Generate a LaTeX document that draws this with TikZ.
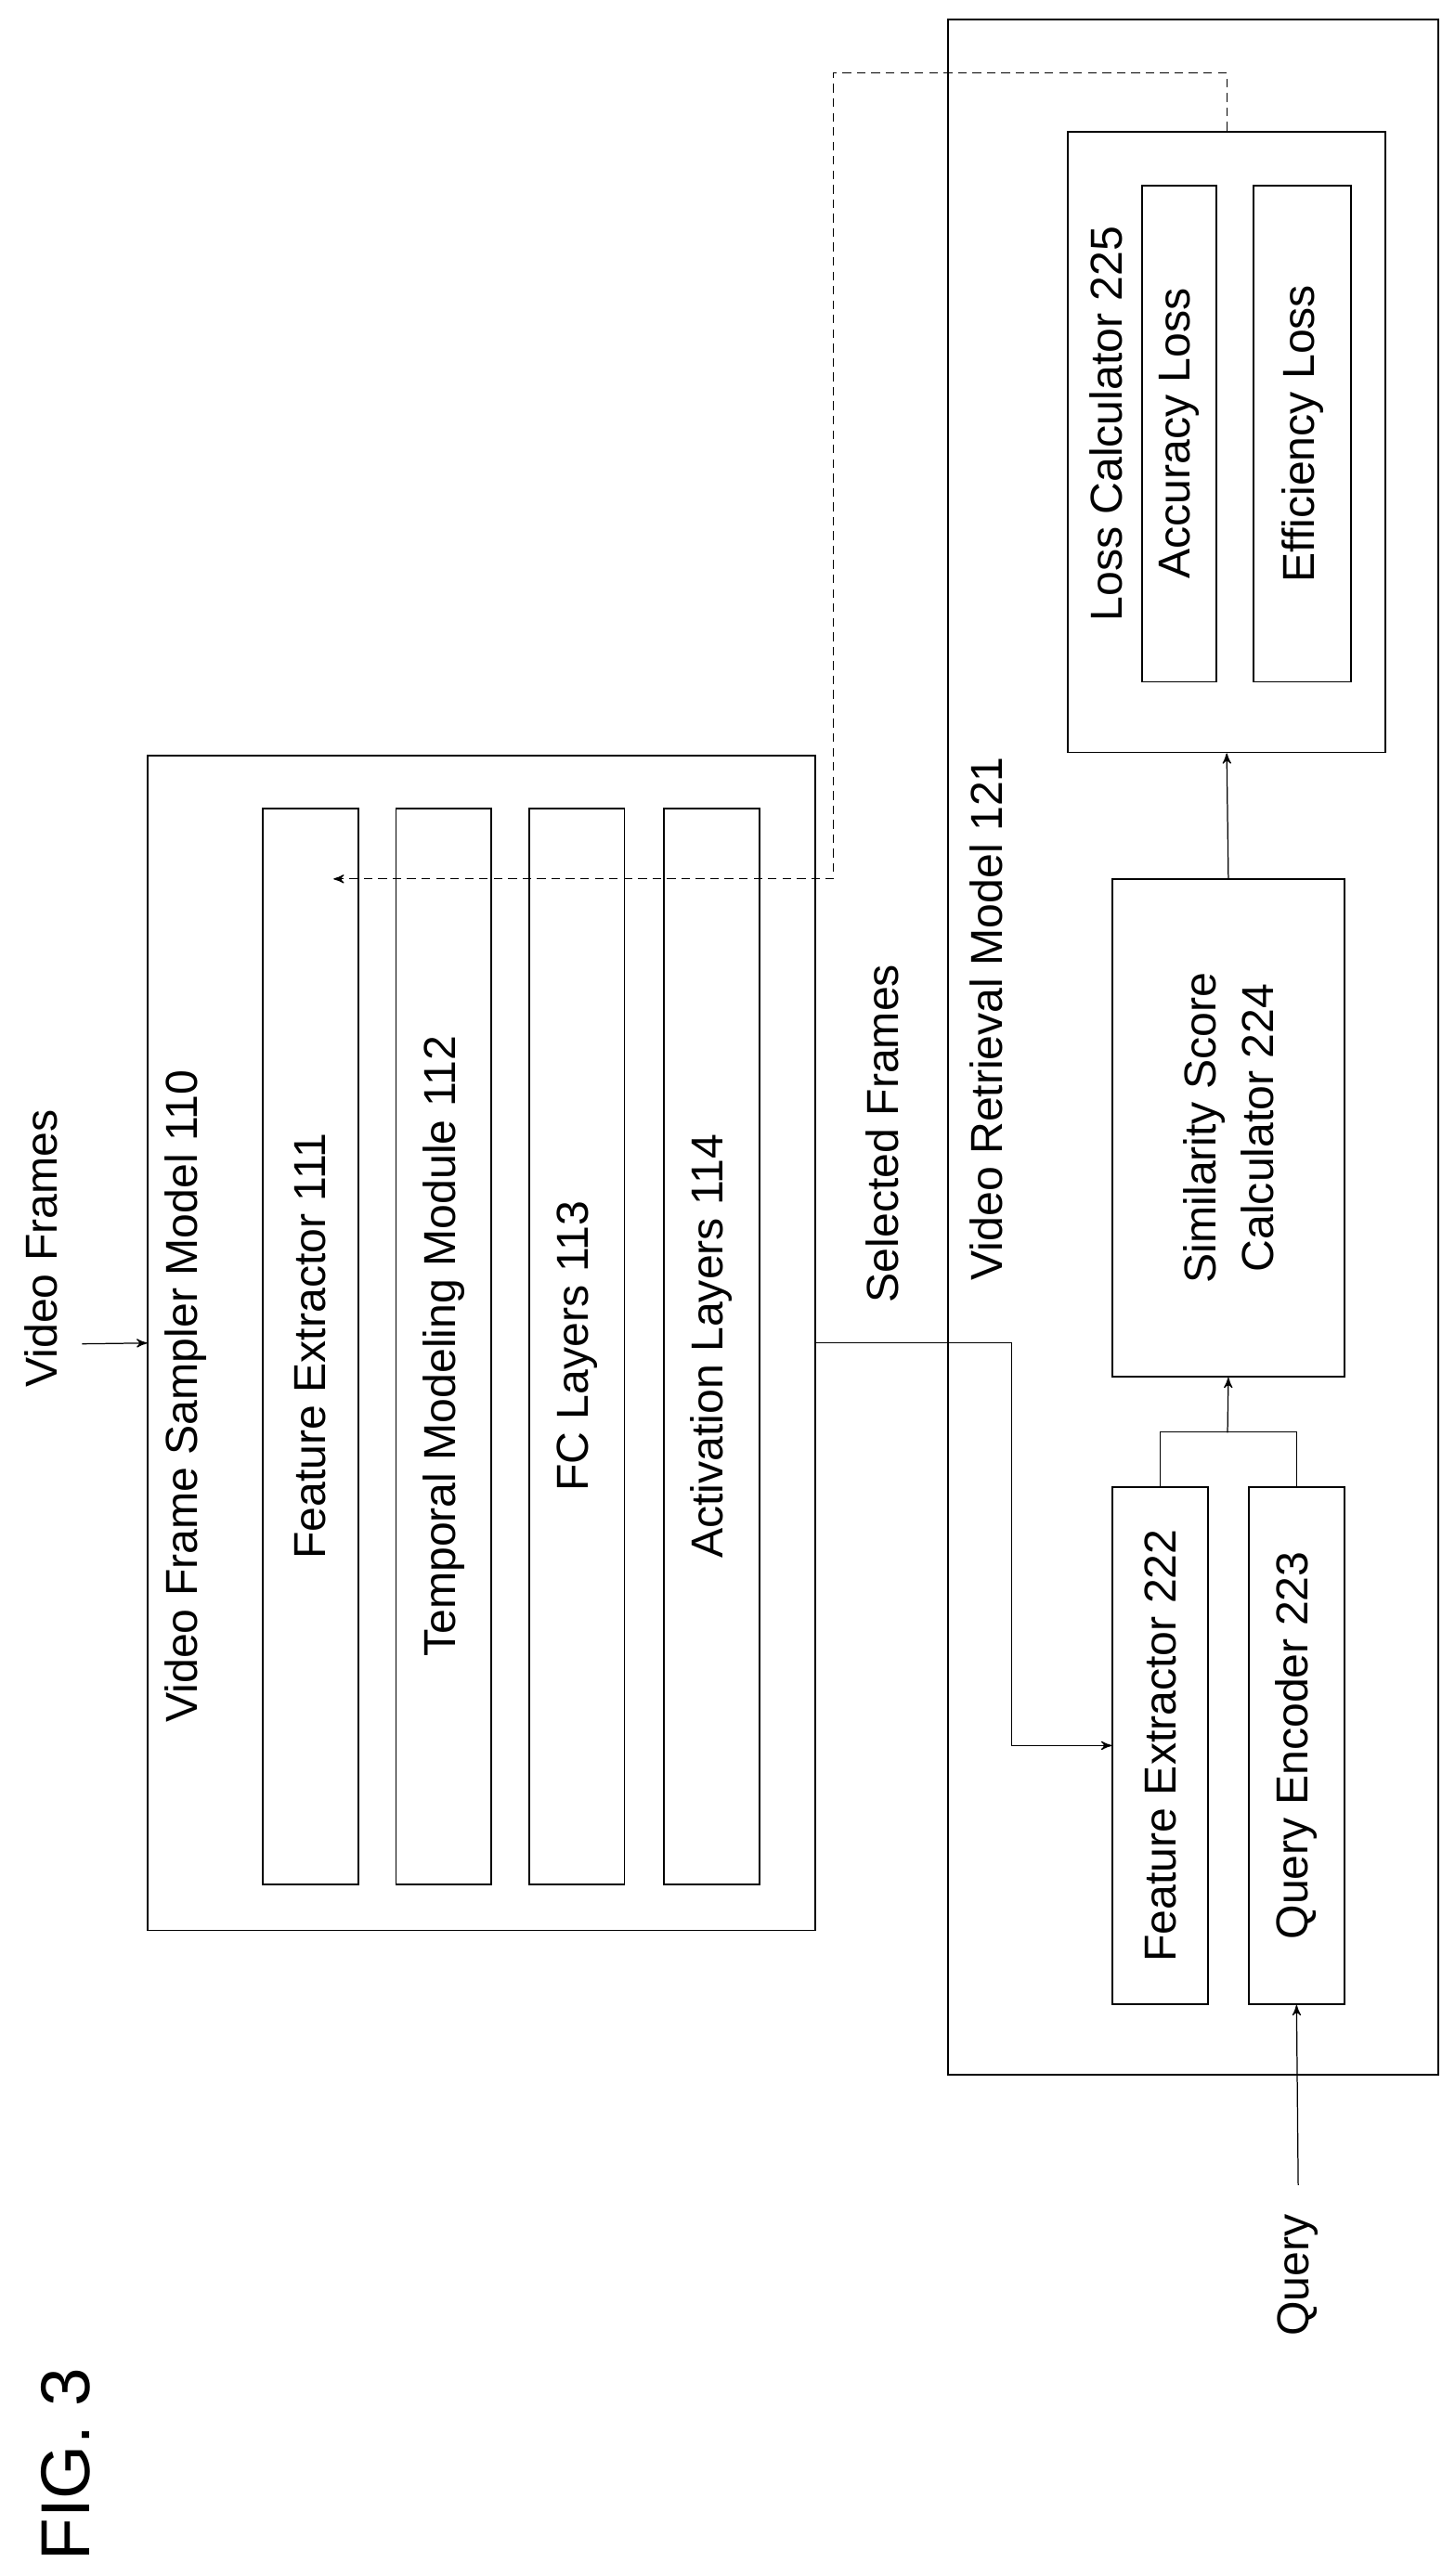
\documentclass[tikz,border=0pt]{standalone}
\usepackage{fontspec}
\setmainfont{Liberation Sans}
\usetikzlibrary{positioning, fit}
\usetikzlibrary{arrows}

\begin{document}
\begin{tikzpicture}[x=0.02cm,y=-0.02cm,>=stealth',semithick,
    box/.style={draw,inner sep=0pt,fit={#1}},
    lbl/.style={rotate=90,font=\fontsize{15.5}{20}\selectfont,align=center}]
   \useasboundingbox (0,0) rectangle (885,1568);
   % sampler model
   \node[box={(90,460)(496,1175)}] (vfs) {};
   \node[lbl] at (113,850) {Video Frame Sampler Model 110};
   \node[box={(160,492)(218,1147)}] (fe1) {};
   \node[lbl] at (fe1) {Feature Extractor 111};
   \node[box={(241,492)(299,1147)}] (tmm) {};
   \node[lbl] at (tmm) {Temporal Modeling Module 112};
   \node[box={(322,492)(380,1147)}] (fc) {};
   \node[lbl] at (fc) {FC Layers 113};
   \node[box={(404,492)(462,1147)}] (act) {};
   \node[lbl] at (act) {Activation Layers 114};
   % retrieval model
   \node[box={(577,12)(875,1263)}] (vrm) {};
   \node[lbl] at (600,620) {Video Retrieval Model 121};
   \node[box={(677,905)(735,1220)}] (fe2) {};
   \node[lbl] at (fe2) {Feature Extractor 222};
   \node[box={(760,905)(818,1220)}] (qe) {};
   \node[lbl] at (qe) {Query Encoder 223};
   \node[box={(677,535)(818,838)}] (sim) {};
   \node[lbl] at (sim) {Similarity Score\\Calculator 224};
   \node[box={(650,80)(843,458)}] (loss) {};
   \node[lbl] at (673,258) {Loss Calculator 225};
   \node[box={(695,113)(740,415)}] (acc) {};
   \node[lbl] at (acc) {Accuracy Loss};
   \node[box={(763,113)(822,415)}] (eff) {};
   \node[lbl] at (eff) {Efficiency Loss};
   % outside labels
   \node[lbl] (vf) at (25,760) {Video Frames};
   \node[lbl] (sf) at (537,690) {Selected Frames};
   \node[lbl] (qry) at (790,1385) {Query};
   \node[rotate=90,font=\fontsize{24}{28}\selectfont] (fig) at (40,1500) {FIG. 3};
   \coordinate (vfin) at (50,818);
   \coordinate (qin) at (790,1330);
   \coordinate (join) at (747,872);
   \coordinate (back) at (203,535);
   % connectors
   \draw[->,thin] (vfin) -- (vfs.west);
   \draw[->,thin] (vfs.east) -- ++(119,0) |- (fe2.west);
   \draw[->,thin] (qin) -- (qe.south);
   \draw[thin] (fe2.north) -- ++(0,-33) -| (qe.north);
   \draw[->,thin] (join) -- (sim.south);
   \draw[->,thin] (sim.north) -- (loss.south);
   \draw[->,thin,densely dashed] (loss.north) -- ++(0,-35) -| (507,535) -- (back);
\end{tikzpicture}
\end{document}
